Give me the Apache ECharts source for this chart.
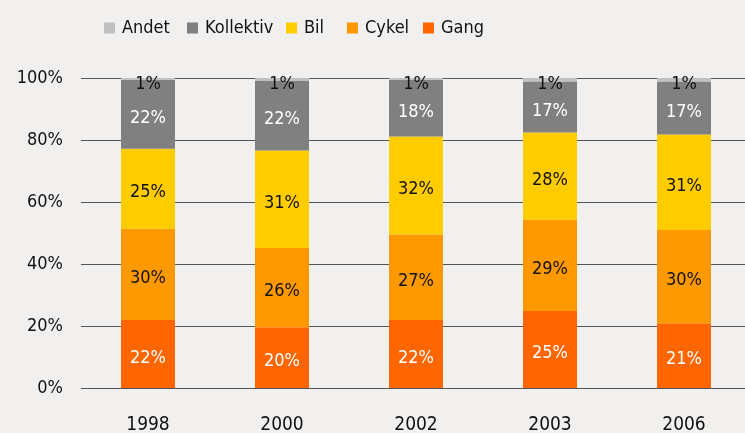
<!DOCTYPE html>
<html>
<head>
<meta charset="utf-8">
<script src="https://cdn.jsdelivr.net/npm/echarts@6/dist/echarts.min.js"></script>
<style>
    html, body { margin: 0; padding: 0; background: #f1f0ee; }
    #chart { width: 745px; height: 433px; }
</style>
</head>
<body>
<div id="chart"></div>
<script>
// ==================
// DATA
// ==================

const years = ['1998', '2000', '2002', '2003', '2006'];
const yTicks = [0, 20, 40, 60, 80, 100];

// bar heights (share of trips, %)
const gang = [21.9, 19.6, 21.9, 24.8, 20.9];
const cykel = [29.5, 25.6, 27.6, 29.5, 30.1];
const bil = [25.8, 31.4, 31.6, 28.1, 30.8];
const kollektiv = [22.2, 22.4, 18.3, 16.5, 17.1];
const andet = [0.6, 1.2, 0.6, 1.3, 1.3];

// printed labels
const gangLabels = [22, 20, 22, 25, 21];
const cykelLabels = [30, 26, 27, 29, 30];
const bilLabels = [25, 31, 32, 28, 31];
const kollektivLabels = [22, 22, 18, 17, 17];
const andetLabels = [1, 1, 1, 1, 1];

const legendNames = ['Andet', 'Kollektiv', 'Bil', 'Cykel', 'Gang'];

// ==================
// CONFIG
// ==================

const FONT = "'DejaVu Sans Condensed', 'DejaVu Sans', sans-serif";

const seriesConfig = [
    { name: 'Gang', data: gang, labels: gangLabels, color: '#ff6600', textColor: '#ffffff' },
    { name: 'Cykel', data: cykel, labels: cykelLabels, color: '#ff9900', textColor: '#111111' },
    { name: 'Bil', data: bil, labels: bilLabels, color: '#ffcc00', textColor: '#111111' },
    { name: 'Kollektiv', data: kollektiv, labels: kollektivLabels, color: '#808080', textColor: '#ffffff' },
    { name: 'Andet', data: andet, labels: andetLabels, color: '#c0c0c0', textColor: '#111111', offset: [0, 5] }
];

// legend square x positions, one legend block per item
const legendLeft = [104, 187, 286, 347, 423];

const chart = echarts.init(document.getElementById('chart'));

const series = seriesConfig.map(s => ({
    name: s.name,
    type: 'bar',
    stack: 'total',
    barWidth: 54,
    data: s.data,
    itemStyle: { color: s.color },
    label: {
        show: true,
        position: 'inside',
        offset: s.offset || [0, 4],
        color: s.textColor,
        fontSize: 18,
        fontFamily: FONT,
        formatter: p => s.labels[p.dataIndex] + '%'
    },
    emphasis: { disabled: true }
}));

const legends = legendNames.map((name, i) => ({
    data: [name],
    left: legendLeft[i],
    top: 19,
    padding: 0,
    itemWidth: 11,
    itemHeight: 11,
    icon: 'rect',
    textStyle: {
        color: '#111',
        fontSize: 18,
        fontFamily: FONT,
        padding: [0, 0, 0, 2]
    }
}));

const option = {
    backgroundColor: '#f1f0ee',
    animation: false,
    legend: legends,
    grid: {
        left: 81,
        top: 78,
        width: 670,
        bottom: 45,
        containLabel: false,
        outerBoundsMode: 'none'
    },
    xAxis: {
        type: 'category',
        data: years,
        axisLine: { show: false },
        axisTick: { show: false },
        axisLabel: {
            color: '#111',
            fontSize: 19,
            fontFamily: FONT,
            margin: 28
        }
    },
    yAxis: {
        type: 'value',
        min: yTicks[0],
        max: yTicks[yTicks.length - 1],
        interval: yTicks[1] - yTicks[0],
        axisLine: { show: false },
        axisTick: { show: false },
        axisLabel: {
            color: '#111',
            fontSize: 18,
            fontFamily: FONT,
            margin: 18,
            formatter: '{value}%'
        },
        splitLine: {
            show: true,
            lineStyle: { color: '#555', width: 1.2 }
        }
    },
    series: series
};

chart.setOption(option);
</script>
</body>
</html>
